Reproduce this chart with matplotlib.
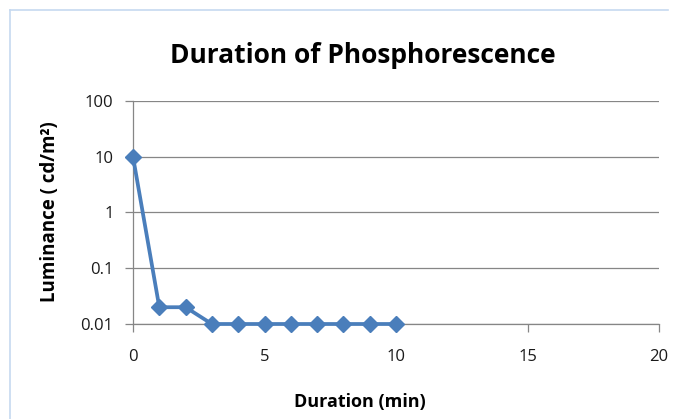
import matplotlib
matplotlib.use("Agg")
import matplotlib.pyplot as plt
from matplotlib.lines import Line2D
from matplotlib.ticker import FixedLocator, FixedFormatter, NullLocator

duration = [0, 1, 2, 3, 4, 5, 6, 7, 8, 9, 10]
luminance = [10, 0.02, 0.02, 0.01, 0.01, 0.01, 0.01, 0.01, 0.01, 0.01, 0.01]
y_ticks = [0.01, 0.1, 1, 10, 100]
y_tick_labels = ["0.01", "0.1", "1", "10", "100"]
x_ticks = [0, 5, 10, 15, 20]

plt.rcParams['font.family'] = ['Open Sans', 'DejaVu Sans']

fig = plt.figure(figsize=(6.79, 4.19), dpi=100)
ax = fig.add_axes([133/679, 1-324/419, (659-133)/679, (324-101)/419])

line_color = '#4A7EBB'
ax.plot(duration, luminance, color=line_color, lw=2.7, marker='D', ms=8.3,
        markerfacecolor=line_color, markeredgecolor=line_color, zorder=3, clip_on=False)

ax.set_yscale('log')
ax.set_ylim(0.01, 100)
ax.set_xlim(0, 20)
ax.yaxis.set_major_locator(FixedLocator(y_ticks))
ax.yaxis.set_major_formatter(FixedFormatter(y_tick_labels))
ax.yaxis.set_minor_locator(NullLocator())
ax.set_xticks(x_ticks)
ax.set_xticklabels([str(t) for t in x_ticks])

ax.grid(axis='y', color='#868686', lw=0.9)
ax.set_axisbelow(True)
for s in ['top', 'right']:
    ax.spines[s].set_visible(False)
for s in ['left', 'bottom']:
    ax.spines[s].set_color('#868686')
    ax.spines[s].set_linewidth(0.9)
ax.tick_params(axis='both', colors='#868686', length=6, width=0.9, labelsize=12,
               labelcolor='#1a1a1a')
ax.tick_params(axis='y', pad=8)
ax.tick_params(axis='x', pad=12)

fig.text(363/679, 1-63/419, 'Duration of Phosphorescence', ha='center', va='baseline',
         fontsize=19, fontweight='bold', color='black')
fig.text(360/679, 1-407/419, 'Duration (min)', ha='center', va='baseline',
         fontsize=13, fontweight='bold', color='black')
fig.text(50/679, 1-212/419, 'Luminance ( cd/m²)', ha='center', va='center',
         rotation=90, fontsize=13.5, fontweight='bold', color='black')

# chart area border (partially visible)
fig.add_artist(Line2D([10/679, 668/679], [1-10/419, 1-10/419], color='#C6D9F0', lw=1.2,
                      transform=fig.transFigure))
fig.add_artist(Line2D([10/679, 10/679], [1-10/419, 0], color='#C6D9F0', lw=1.2,
                      transform=fig.transFigure))

fig.savefig('out.png', dpi=100)
